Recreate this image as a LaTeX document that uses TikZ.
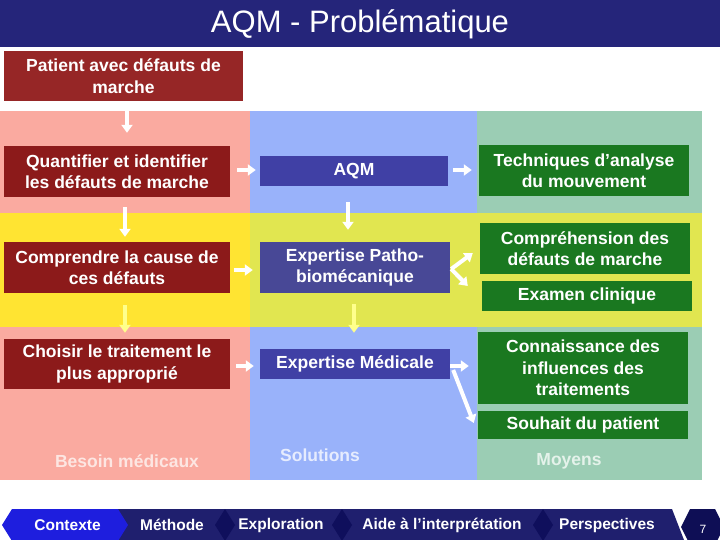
\documentclass[tikz,border=0pt]{standalone}
\usepackage{fontspec}
\setmainfont{Liberation Sans}
\usetikzlibrary{arrows.meta,calc}
\definecolor{titlebar}{RGB}{37,37,122}
\definecolor{patred}{RGB}{150,38,38}
\definecolor{boxred}{RGB}{140,26,26}
\definecolor{boxblue}{RGB}{64,64,165}
\definecolor{boxblueb}{RGB}{72,72,150}
\definecolor{boxgreen}{RGB}{26,120,32}
\definecolor{bgpink}{RGB}{250,170,160}
\definecolor{bgblue}{RGB}{153,178,250}
\definecolor{bggreen}{RGB}{155,205,180}
\definecolor{bgyellow}{RGB}{255,228,50}
\definecolor{bgyg}{RGB}{225,230,80}
\definecolor{lblpink}{RGB}{253,230,226}
\definecolor{lblblue}{RGB}{230,236,254}
\definecolor{lblgreen}{RGB}{228,242,234}
\definecolor{arrowyellow}{RGB}{255,255,140}
\definecolor{navbar}{RGB}{31,31,110}
\definecolor{navdiamond}{RGB}{15,15,92}
\definecolor{navactive}{RGB}{30,30,222}
\definecolor{navpage}{RGB}{14,14,85}
\begin{document}
\begin{tikzpicture}[x=1pt,y=-1pt,
  boxtext/.style={text=white, font=\bfseries\fontsize{17.5}{21.5}\selectfont, align=center, inner sep=0pt},
  redbox/.style={boxtext, fill=boxred},
  bluebox/.style={boxtext, fill=boxblue},
  greenbox/.style={boxtext, fill=boxgreen},
  lbl/.style={font=\bfseries\fontsize{17.5}{21.5}\selectfont, inner sep=0pt},
  navtext/.style={text=white, font=\bfseries\fontsize{15.5}{18}\selectfont, inner sep=0pt},
  arr/.style={draw=white, line width=4pt, -{Triangle[length=8pt,width=11pt]}},
  yarr/.style={arr, draw=arrowyellow}
]
\useasboundingbox (0,0) rectangle (720,540);
\fill[white] (0,0) rectangle (720,540);
% title bar
\fill[titlebar] (0,0) rectangle (720,47);
\node[text=white, font=\fontsize{31}{36}\selectfont, inner sep=0pt] (title) at (360,24) {AQM - Problématique};
% background bands
\fill[bgpink] (0,111) rectangle (250,213);
\fill[bgblue] (250,111) rectangle (477,213);
\fill[bggreen] (477,111) rectangle (702,213);
\fill[bgyellow] (0,213) rectangle (250,327);
\fill[bgyg] (250,213) rectangle (702,327);
\fill[bgpink] (0,327) rectangle (250,480);
\fill[bgblue] (250,327) rectangle (477,480);
\fill[bggreen] (477,327) rectangle (702,480);
% boxes
\node[boxtext, fill=patred, minimum width=239pt, minimum height=50pt] (patient) at (123.5,76) {Patient avec défauts de\\marche};
\node[redbox, minimum width=226pt, minimum height=51pt] (quant) at (117,171.5) {Quantifier et identifier\\les défauts de marche};
\node[redbox, minimum width=226pt, minimum height=51pt] (compr) at (117,267.5) {Comprendre la cause de\\ces défauts};
\node[redbox, minimum width=226pt, minimum height=50pt] (choisir) at (117,364) {Choisir le traitement le\\plus approprié};
\node[bluebox, minimum width=188pt, minimum height=30pt] (aqm) at (354,171) {AQM};
\node[bluebox, fill=boxblueb, minimum width=190pt, minimum height=51pt] (patho) at (355,267.5) {Expertise Patho-\\biomécanique};
\node[bluebox, minimum width=190pt, minimum height=30pt] (medic) at (355,364) {Expertise Médicale};
\node[greenbox, minimum width=210pt, minimum height=51pt] (tech) at (584,170.5) {Techniques d’analyse\\du mouvement};
\node[greenbox, minimum width=210pt, minimum height=51pt] (comprh) at (585,248.5) {Compréhension des\\défauts de marche};
\node[greenbox, minimum width=210pt, minimum height=30pt] (examen) at (587,296) {Examen clinique};
\node[greenbox, minimum width=210pt, minimum height=72pt] (connais) at (583,368) {Connaissance des\\influences des\\traitements};
\node[greenbox, minimum width=210pt, minimum height=28pt] (souhait) at (583,425) {Souhait du patient};
% column labels
\node[lbl, text=lblpink] (besoin) at (127,461) {Besoin médicaux};
\node[lbl, text=lblblue] (solutions) at (320,455) {Solutions};
\node[lbl, text=lblgreen] (moyens) at (569,461) {Moyens};
% arrows
\draw[arr] ($(patient.south)+(3.5,10)$) -- ($(quant.north)+(10,-13)$);
\draw[arr] ($(quant.south)+(8,10)$) -- ($(compr.north)+(8,-5)$);
\draw[yarr] ($(compr.south)+(8,12)$) -- ($(choisir.north)+(8,-6)$);
\draw[arr] ($(quant.east)+(7,-1.5)$) -- ($(aqm.west)+(-4,-1)$);
\draw[arr] ($(compr.east)+(4,2.5)$) -- ($(patho.west)+(-7,2.5)$);
\draw[arr] ($(choisir.east)+(6,2)$) -- ($(medic.west)+(-6,2)$);
\draw[arr] ($(aqm.east)+(5,-1)$) -- ($(tech.west)+(-7,-0.5)$);
\draw[arr] ($(aqm.south)+(-6,16)$) -- ($(patho.north)+(-7,-12)$);
\draw[yarr] ($(patho.south)+(-1,11)$) -- ($(medic.north)+(-1,-16)$);
\draw[arr] ($(patho.east)+(1,1.5)$) -- ($(comprh.west)+(-7,4.5)$);
\draw[arr] ($(patho.east)+(1,1.5)$) -- ($(examen.west)+(-14,-10)$);
\draw[arr] ($(medic.east)+(0,2)$) -- ($(connais.west)+(-9,-2)$);
\draw[arr] ($(medic.east)+(3,6)$) -- ($(souhait.west)+(-4,-2)$);
% navigation bar
\fill[navbar] (118,509) -- (672,509) -- (684,540) -- (118,540) -- cycle;
\foreach \cx in {225,342,543}{
  \fill[navdiamond] (\cx-10,525) -- (\cx,509) -- (\cx+10,525) -- (\cx,541) -- cycle;
}
\fill[navactive] (2,525) -- (12,509) -- (118,509) -- (128,525) -- (118,541) -- (12,541) -- cycle;
\fill[navpage] (690,509) -- (715,509) -- (724,527) -- (715,545) -- (690,545) -- (681,527) -- cycle;
\node[navtext] (nav1) at (67.5,525) {Contexte};
\node[navtext] (nav2) at (172,525) {Méthode};
\node[navtext] (nav3) at (281,525) {Exploration};
\node[navtext] (nav4) at (442,525) {Aide à l’interprétation};
\node[navtext] (nav5) at (607,525) {Perspectives};
\node[text=white, font=\fontsize{12}{14}\selectfont, inner sep=0pt] (page) at (703,529) {7};
\end{tikzpicture}
\end{document}
